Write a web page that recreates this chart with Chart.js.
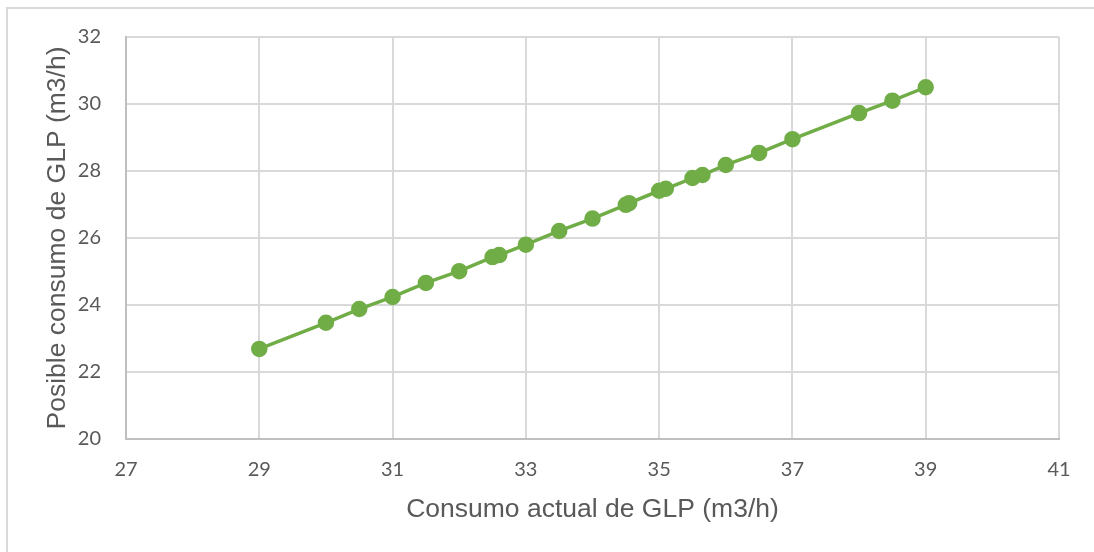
<!DOCTYPE html>
<html>
<head>
<meta charset="utf-8">
<script src="https://cdn.jsdelivr.net/npm/chart.js@4"></script>
<style>
  html, body { margin: 0; padding: 0; background: #fff; }
  #wrap { position: relative; width: 1094px; height: 552px; overflow: hidden; }
  #frame { position: absolute; left: 6px; top: 7px; right: -10px; bottom: -10px;
           border-left: 2px solid #d9d9d9; border-top: 2px solid #d9d9d9; }
  canvas { position: absolute; left: 0; top: 0; }
</style>
</head>
<body>
<div id="wrap">
  <div id="frame"></div>
  <canvas id="chart" width="1094" height="552"></canvas>
</div>
<script>
// consumo actual (x) y posible consumo (y)
const consumoActual = [29, 30, 30.5, 31, 31.5, 32, 32.5, 32.6, 33, 33.5, 34, 34.5, 34.55,
                       35, 35.1, 35.5, 35.65, 36, 36.5, 37, 38, 38.5, 39];
const posibleConsumo = [22.69, 23.47, 23.88, 24.24, 24.66, 25.01, 25.43, 25.49, 25.80, 26.21, 26.58, 26.99, 27.04,
                        27.41, 27.47, 27.79, 27.88, 28.18, 28.54, 28.95, 29.73, 30.10, 30.50];
const xTicks = [27, 29, 31, 33, 35, 37, 39, 41];
const yTicks = [20, 22, 24, 26, 28, 30, 32];
const xTitle = 'Consumo actual de GLP (m3/h)';
const yTitle = 'Posible consumo de GLP (m3/h)';

document.addEventListener('DOMContentLoaded', () => {
    const ctx = document.getElementById('chart').getContext('2d');
    const points = consumoActual.map((x, i) => ({ x: x, y: posibleConsumo[i] }));

    const tickFont = { family: 'Lato', size: 20 };
    const titleFont = { family: 'Liberation Sans', size: 26.5 };

    new Chart(ctx, {
        type: 'scatter',
        data: {
            datasets: [{
                data: points,
                showLine: true,
                borderColor: '#70ad47',
                backgroundColor: '#70ad47',
                borderWidth: 3.5,
                pointRadius: 6.5,
                pointHoverRadius: 6.5
            }]
        },
        options: {
            responsive: false,
            animation: false,
            layout: { padding: { top: 37, right: 35, left: 0, bottom: 0 } },
            plugins: { legend: { display: false }, tooltip: { enabled: false } },
            scales: {
                x: {
                    type: 'linear',
                    min: 27, max: 41,
                    afterBuildTicks: s => { s.ticks = xTicks.map(v => ({ value: v })); },
                    afterFit: s => { s.height = 113; },
                    grid: { color: '#d9d9d9', lineWidth: 2, drawTicks: false },
                    border: { color: '#bfbfbf', width: 2 },
                    ticks: { color: '#595959', font: tickFont, padding: 19, maxRotation: 0 },
                    title: { display: true, text: xTitle, color: '#595959', font: titleFont,
                             padding: { top: 0, bottom: 26 } }
                },
                y: {
                    type: 'linear',
                    min: 20, max: 32,
                    afterBuildTicks: s => { s.ticks = yTicks.map(v => ({ value: v })); },
                    afterFit: s => { s.width = 126; },
                    grid: { color: '#d9d9d9', lineWidth: 2, drawTicks: false },
                    border: { color: '#bfbfbf', width: 2 },
                    ticks: { color: '#595959', font: tickFont, padding: 25 },
                    title: { display: true, text: yTitle, color: '#595959', font: titleFont,
                             padding: { top: 42, bottom: 0 } }
                }
            }
        }
    });
});
</script>
</body>
</html>
